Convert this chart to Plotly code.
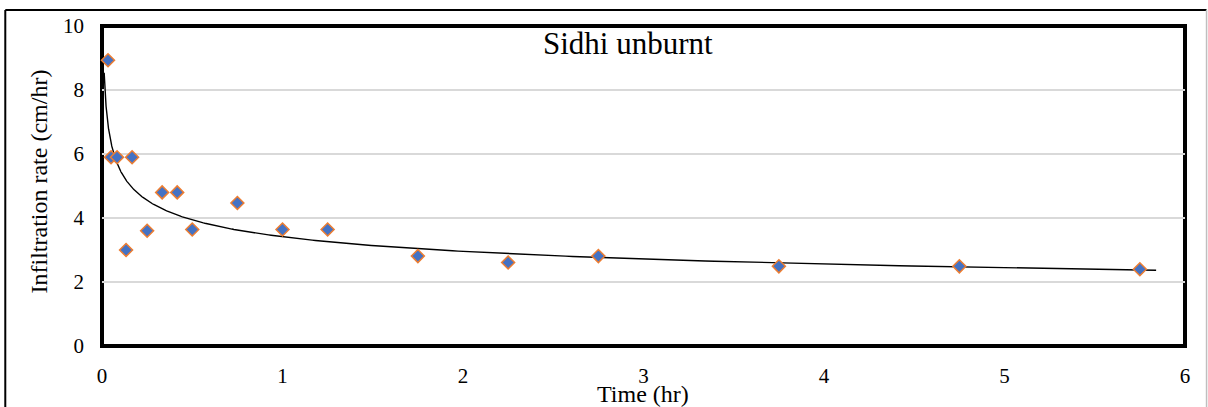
import numpy as np
import plotly.graph_objects as go

# Infiltration test, Sidhi unburnt plot
time_hr = [0.0333, 0.05, 0.0833, 0.1333, 0.1667, 0.25, 0.3333, 0.4167, 0.5,
           0.75, 1.0, 1.25, 1.75, 2.25, 2.75, 3.75, 4.75, 5.75]
rate_cm_hr = [8.93, 5.9, 5.9, 3.0, 5.9, 3.6, 4.8, 4.8, 3.64,
              4.47, 3.64, 3.64, 2.81, 2.61, 2.81, 2.49, 2.49, 2.40]

x_ticks = [0, 1, 2, 3, 4, 5, 6]
y_ticks = [0, 2, 4, 6, 8, 10]

title_text = "Sidhi unburnt"
x_title = "Time (hr)"
y_title = "Infiltration rate (cm/hr)"

# Power trend line  y = a * t^b  fitted in log-log space
t = np.array(time_hr)
r = np.array(rate_cm_hr)
b, ln_a = np.polyfit(np.log(t), np.log(r), 1)
a = np.exp(ln_a)
trend_t = np.geomspace(0.012, 5.84, 400)
trend_r = a * trend_t ** b

SERIF = "Liberation Serif"

fig = go.Figure()
fig.add_trace(go.Scatter(
    x=trend_t, y=trend_r, mode="lines",
    line=dict(color="black", width=1.4),
    hoverinfo="skip", showlegend=False,
))
fig.add_trace(go.Scatter(
    x=time_hr, y=rate_cm_hr, mode="markers",
    marker=dict(symbol="diamond", size=10, color="#4472C4",
                line=dict(color="#ED7D31", width=1.5)),
    showlegend=False, cliponaxis=False,
))

fig.update_layout(
    width=1208, height=407,
    margin=dict(l=102, r=23, t=26, b=61),
    paper_bgcolor="white", plot_bgcolor="white",
    font=dict(family=SERIF, color="black", size=21),
    xaxis=dict(range=[0, 6], tickvals=x_ticks, showgrid=False, zeroline=False,
               showline=False, ticks="", ticklabelstandoff=15,
               tickfont=dict(family=SERIF, size=21, color="black")),
    yaxis=dict(range=[0, 10], tickvals=y_ticks, showgrid=True,
               gridcolor="#D9D9D9", gridwidth=1.6, zeroline=False,
               showline=False, ticks="", ticklabelstandoff=17,
               tickfont=dict(family=SERIF, size=21, color="black")),
    shapes=[
        # plot area frame
        dict(type="rect", xref="paper", yref="paper", x0=0, x1=1, y0=0, y1=1,
             line=dict(color="black", width=4), layer="between"),
        # outer chart frame
        dict(type="line", xref="paper", yref="paper", x0=-0.0893, x1=-0.0893,
             y0=-0.3, y1=1.05, line=dict(color="black", width=2)),
        dict(type="line", xref="paper", yref="paper", x0=-0.0893, x1=1.0199,
             y0=1.05, y1=1.05, line=dict(color="black", width=2)),
        dict(type="line", xref="paper", yref="paper", x0=1.0199, x1=1.0199,
             y0=-0.3, y1=1.05, line=dict(color="#BFBFBF", width=1.5)),
    ],
    annotations=[
        dict(text=title_text, xref="paper", yref="paper", x=0.4857, y=0.945,
             xanchor="center", yanchor="middle", showarrow=False,
             font=dict(family=SERIF, size=31, color="black")),
        dict(text=x_title, xref="paper", yref="paper", x=0.4995, y=-0.15,
             xanchor="center", yanchor="middle", showarrow=False,
             font=dict(family=SERIF, size=24, color="black")),
        dict(text=y_title, xref="paper", yref="paper", x=-0.0582, y=0.514,
             xanchor="center", yanchor="middle", textangle=-90, showarrow=False,
             font=dict(family=SERIF, size=24, color="black")),
    ],
)

fig.write_html("out.html")
